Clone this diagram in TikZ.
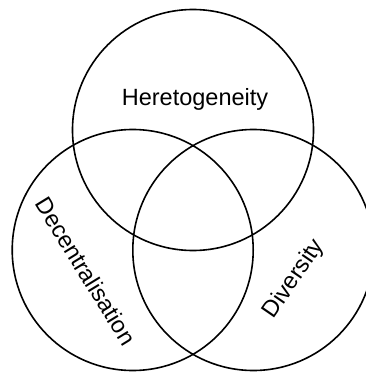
\documentclass[tikz,border=0pt]{standalone}
\usepackage{fontspec}
\setmainfont{Liberation Sans}
\begin{document}
\begin{tikzpicture}[x=1pt,y=-1pt,
  ring/.style={draw=black,line width=1.6pt},
  lbl/.style={font=\fontsize{23.5}{28}\selectfont,inner sep=0pt}]
  \clip (0,0) rectangle (366,372);
  % the three overlapping sets
  \draw[ring] (193,130) circle[radius=120.5];
  \draw[ring] (132.7,250) circle[radius=120.5];
  \draw[ring] (253.3,250) circle[radius=120.5];
  % set names
  \node[lbl] (het) at (195,99) {Heretogeneity};
  \node[lbl,rotate=-58.5] (dec) at (86,271) {Decentralisation};
  \node[lbl,rotate=55.5] (div) at (294,279) {Diversity};
\end{tikzpicture}
\end{document}
